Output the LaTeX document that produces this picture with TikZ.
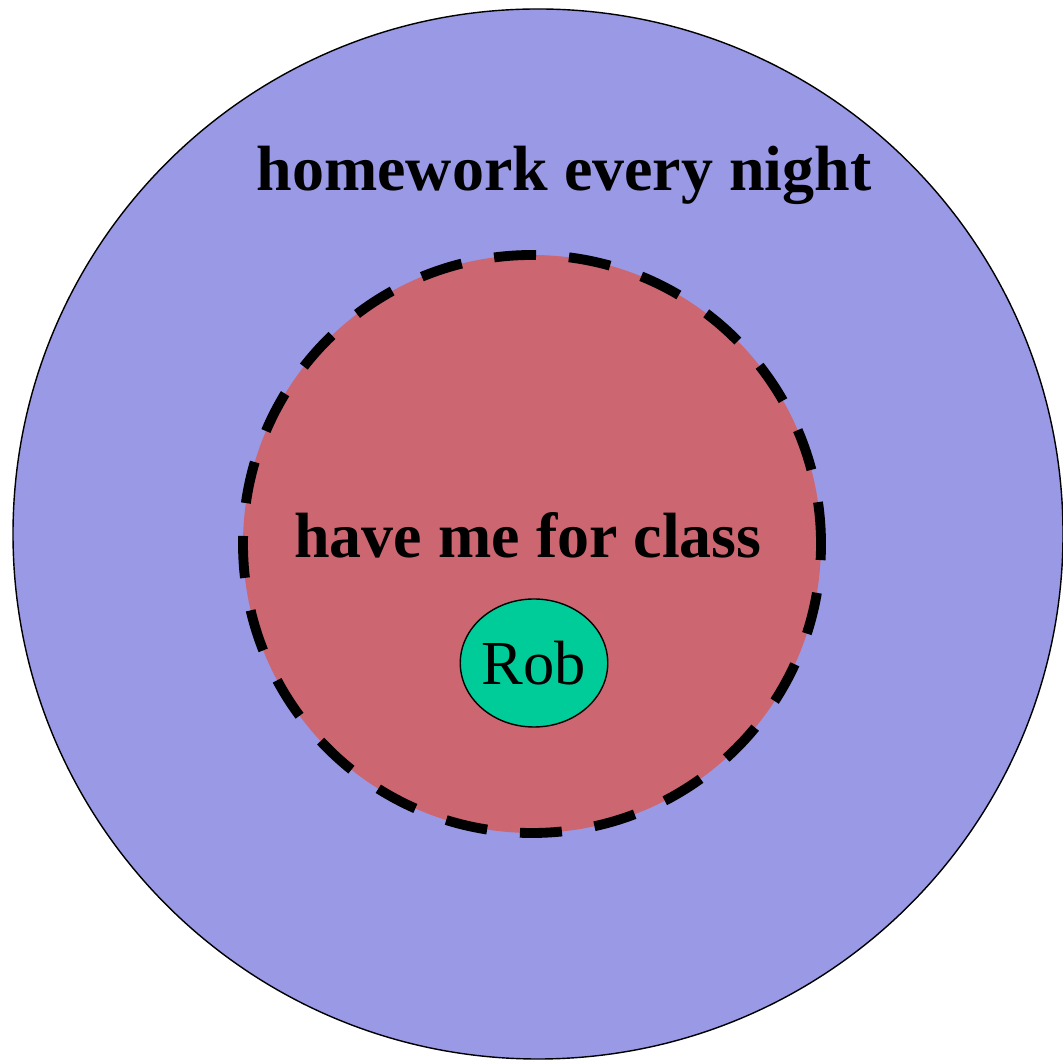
\documentclass[tikz,border=0pt]{standalone}
\usepackage{fontspec}
\setmainfont{Liberation Serif}
\usepackage{tikz}
\usetikzlibrary{shapes.geometric}
\definecolor{nightColor}{HTML}{9999E5}
\definecolor{classColor}{HTML}{CC6670}
\definecolor{robColor}{HTML}{00CC99}

\begin{document}
\begin{tikzpicture}[
    setlabel/.style={font=\bfseries\fontsize{18.2}{20}\selectfont, anchor=base}]
    \useasboundingbox (0,0) rectangle (10.63,10.60);

    \node[circle, draw, fill=nightColor, inner sep=0pt, minimum size=10.50cm] (night) at (5.38,5.26) {};
    \node[circle, fill=classColor, inner sep=0pt, minimum size=5.78cm] (class) at (5.32,5.16) {};
    \draw[line width=2.8pt, dash pattern=on 0.42cm off 0.33cm] (class.center) circle (2.89);

    \node[ellipse, draw, fill=robColor, inner sep=0pt, minimum width=1.44cm, minimum height=1.28cm,
        font=\fontsize{17.8}{20}\selectfont] (rob) at (5.34,3.97) {Rob};

    \node[setlabel] (nightlabel) at (5.64,8.69) {homework every night};
    \node[setlabel] (classlabel) at (5.28,5.02) {have me for class};
\end{tikzpicture}
\end{document}
